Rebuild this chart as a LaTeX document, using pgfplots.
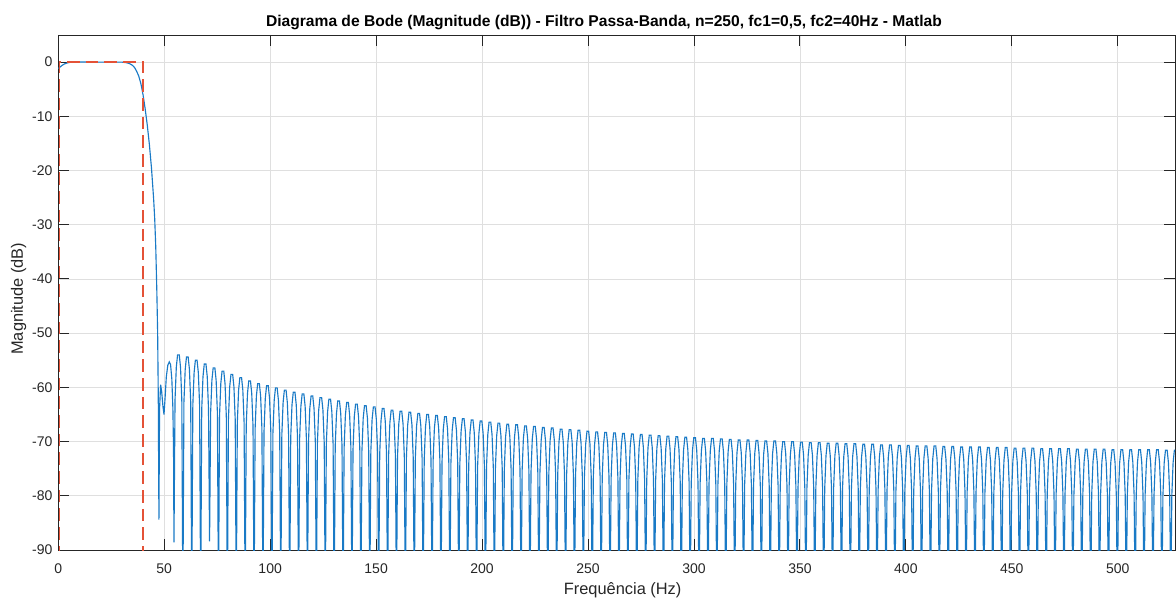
\documentclass[border=0pt]{standalone}
\usepackage{fontspec}
\setmainfont{Liberation Sans}
\usepackage{pgfplots}
\pgfplotsset{compat=1.18}
\definecolor{mblue}{RGB}{25,122,198}
\definecolor{mred}{RGB}{228,82,55}
\definecolor{mgrid}{RGB}{223,223,223}
\definecolor{maxis}{RGB}{38,38,38}
\begin{document}
\begin{tikzpicture}
\begin{axis}[name=ax, scale only axis, width=837.5pt, height=386.25pt,
 xmin=0, xmax=527, ymin=-90, ymax=5,
 xtick={0,50,...,500}, ytick={-90,-80,...,0},
 grid=major, major grid style={mgrid, line width=0.6pt},
 axis line style={maxis, line width=0.7pt},
 tick style={maxis, line width=0.7pt},
 major tick length=8.25pt, tick align=inside,
 ticklabel style={font=\fontsize{10.5}{12}\selectfont, text=maxis},
 /pgf/number format/assume math mode=true,
 xticklabel style={anchor=base, yshift=-17.5pt, inner sep=0pt},
 yticklabel style={anchor=east, xshift=-4.2pt, inner sep=0pt},
 xlabel={Frequência (Hz)}, ylabel={Magnitude (dB)},
 label style={font=\fontsize{12.3}{14}\selectfont, text=maxis, inner sep=0pt},
 xlabel style={at={(axis description cs:0.5,0)}, anchor=base, yshift=-33pt, xshift=4.5pt},
 ylabel style={at={(axis description cs:-0.0316,0.488)}, anchor=base},
 title={Diagrama de Bode (Magnitude (dB)) - Filtro Passa-Banda, n=250, fc1=0,5, fc2=40Hz - Matlab},
 title style={font=\bfseries\fontsize{11.7}{13}\selectfont, inner sep=0pt, at={(axis description cs:0.5,1)}, anchor=base, yshift=0pt, xshift=-9.5pt},
]
\addplot[mblue, line width=0.85pt] coordinates {
(0,-1.2)(1,-0.85)(2,-0.55)(3,-0.33)(4,-0.18)(5,-0.08)(6,-0.03)(7,0)(10,0.02)(15,0)(20,0)(25,0)(30,0)
(31,-0.05)(32,-0.1)(33,-0.2)(34,-0.35)(35,-0.6)(36,-1.0)(37,-1.7)(38,-2.6)(39,-4.0)(40,-6.0)
(41,-8.6)(42,-11.6)(43,-15.2)(44,-19.6)(45,-25.2)(45.5,-28.8)(46,-34)(46.5,-42)(46.9,-50)(47.2,-62)
(47.5,-84.4)(47.8,-64)(48.3,-59.5)(48.8,-60.8)(49.4,-63.5)(49.9,-65)(50.4,-62)(51.0,-58)(51.7,-55.9)
(52.4,-55.3)(53.0,-55.8)(53.6,-58.5)(54.1,-64)(54.4,-72)
(54.6,-88.6)(55.1,-62.3)(55.7,-56.3)(56.3,-54.0)(57.1,-54.0)(57.7,-56.3)(58.3,-62.3)
(58.8,-100)(59.3,-62.7)(59.9,-56.7)(60.5,-54.4)(61.3,-54.4)(61.9,-56.7)(62.5,-62.7)
(63.0,-100)(63.5,-63.3)(64.1,-57.3)(64.7,-55.0)(65.5,-55.0)(66.1,-57.3)(66.7,-63.3)
(67.2,-100)(67.7,-64.0)(68.3,-58.0)(68.9,-55.7)(69.7,-55.7)(70.3,-58.0)(70.9,-64.0)
(71.4,-88.4)(71.9,-64.7)(72.5,-58.7)(73.1,-56.4)(73.9,-56.4)(74.5,-58.7)(75.1,-64.7)
(75.6,-100)(76.1,-65.3)(76.7,-59.3)(77.3,-57.0)(78.1,-57.0)(78.7,-59.3)(79.3,-65.3)
(79.8,-100)(80.3,-65.9)(80.9,-59.9)(81.5,-57.6)(82.3,-57.6)(82.9,-59.9)(83.5,-65.9)
(84.0,-100)(84.5,-66.5)(85.1,-60.5)(85.7,-58.2)(86.5,-58.2)(87.1,-60.5)(87.7,-66.5)
(88.2,-100)(88.7,-67.1)(89.3,-61.1)(89.9,-58.8)(90.7,-58.8)(91.3,-61.1)(91.9,-67.1)
(92.4,-100)(92.9,-67.6)(93.5,-61.6)(94.1,-59.3)(94.9,-59.3)(95.5,-61.6)(96.1,-67.6)
(96.6,-100)(97.1,-68.0)(97.7,-62.0)(98.3,-59.7)(99.1,-59.7)(99.7,-62.0)(100.3,-68.0)
(100.8,-100)(101.3,-68.4)(101.9,-62.4)(102.5,-60.1)(103.3,-60.1)(103.9,-62.4)(104.5,-68.4)
(105.0,-100)(105.5,-68.8)(106.1,-62.8)(106.7,-60.5)(107.5,-60.5)(108.1,-62.8)(108.7,-68.8)
(109.2,-100)(109.7,-69.2)(110.3,-63.2)(110.9,-60.9)(111.7,-60.9)(112.3,-63.2)(112.9,-69.2)
(113.4,-100)(113.9,-69.5)(114.5,-63.5)(115.1,-61.2)(115.9,-61.2)(116.5,-63.5)(117.1,-69.5)
(117.6,-100)(118.1,-69.9)(118.7,-63.9)(119.3,-61.6)(120.1,-61.6)(120.7,-63.9)(121.3,-69.9)
(121.8,-100)(122.3,-70.2)(122.9,-64.2)(123.5,-61.9)(124.3,-61.9)(124.9,-64.2)(125.5,-70.2)
(126.0,-100)(126.5,-70.5)(127.1,-64.5)(127.7,-62.2)(128.5,-62.2)(129.1,-64.5)(129.7,-70.5)
(130.2,-100)(130.7,-70.8)(131.3,-64.8)(131.9,-62.5)(132.7,-62.5)(133.3,-64.8)(133.9,-70.8)
(134.4,-100)(134.9,-71.1)(135.5,-65.1)(136.1,-62.8)(136.9,-62.8)(137.5,-65.1)(138.1,-71.1)
(138.6,-100)(139.1,-71.4)(139.7,-65.4)(140.3,-63.1)(141.1,-63.1)(141.7,-65.4)(142.3,-71.4)
(142.8,-100)(143.3,-71.7)(143.9,-65.7)(144.5,-63.4)(145.3,-63.4)(145.9,-65.7)(146.5,-71.7)
(147.0,-100)(147.5,-71.9)(148.1,-65.9)(148.7,-63.6)(149.5,-63.6)(150.1,-65.9)(150.7,-71.9)
(151.2,-100)(151.7,-72.2)(152.3,-66.2)(152.9,-63.9)(153.7,-63.9)(154.3,-66.2)(154.9,-72.2)
(155.4,-100)(155.9,-72.5)(156.5,-66.5)(157.1,-64.2)(157.9,-64.2)(158.5,-66.5)(159.1,-72.5)
(159.6,-100)(160.1,-72.7)(160.7,-66.7)(161.3,-64.4)(162.1,-64.4)(162.7,-66.7)(163.3,-72.7)
(163.8,-100)(164.3,-72.9)(164.9,-66.9)(165.5,-64.6)(166.3,-64.6)(166.9,-66.9)(167.5,-72.9)
(168.0,-100)(168.5,-73.1)(169.1,-67.1)(169.7,-64.8)(170.5,-64.8)(171.1,-67.1)(171.7,-73.1)
(172.2,-100)(172.7,-73.3)(173.3,-67.3)(173.9,-65.0)(174.7,-65.0)(175.3,-67.3)(175.9,-73.3)
(176.4,-100)(176.9,-73.5)(177.5,-67.5)(178.1,-65.2)(178.9,-65.2)(179.5,-67.5)(180.1,-73.5)
(180.6,-100)(181.1,-73.7)(181.7,-67.7)(182.3,-65.4)(183.1,-65.4)(183.7,-67.7)(184.3,-73.7)
(184.8,-100)(185.3,-73.9)(185.9,-67.9)(186.5,-65.6)(187.3,-65.6)(187.9,-67.9)(188.5,-73.9)
(189.0,-100)(189.5,-74.1)(190.1,-68.1)(190.7,-65.8)(191.5,-65.8)(192.1,-68.1)(192.7,-74.1)
(193.2,-100)(193.7,-74.3)(194.3,-68.3)(194.9,-66.0)(195.7,-66.0)(196.3,-68.3)(196.9,-74.3)
(197.4,-100)(197.9,-74.5)(198.5,-68.5)(199.1,-66.2)(199.9,-66.2)(200.5,-68.5)(201.1,-74.5)
(201.6,-100)(202.1,-74.7)(202.7,-68.7)(203.3,-66.4)(204.1,-66.4)(204.7,-68.7)(205.3,-74.7)
(205.8,-100)(206.3,-74.9)(206.9,-68.9)(207.5,-66.6)(208.3,-66.6)(208.9,-68.9)(209.5,-74.9)
(210.0,-100)(210.5,-75.1)(211.1,-69.1)(211.7,-66.8)(212.5,-66.8)(213.1,-69.1)(213.7,-75.1)
(214.2,-100)(214.7,-75.2)(215.3,-69.2)(215.9,-66.9)(216.7,-66.9)(217.3,-69.2)(217.9,-75.2)
(218.4,-100)(218.9,-75.4)(219.5,-69.4)(220.1,-67.1)(220.9,-67.1)(221.5,-69.4)(222.1,-75.4)
(222.6,-100)(223.1,-75.5)(223.7,-69.5)(224.3,-67.2)(225.1,-67.2)(225.7,-69.5)(226.3,-75.5)
(226.8,-100)(227.3,-75.7)(227.9,-69.7)(228.5,-67.4)(229.3,-67.4)(229.9,-69.7)(230.5,-75.7)
(231.0,-100)(231.5,-75.8)(232.1,-69.8)(232.7,-67.5)(233.5,-67.5)(234.1,-69.8)(234.7,-75.8)
(235.2,-100)(235.7,-76.0)(236.3,-70.0)(236.9,-67.7)(237.7,-67.7)(238.3,-70.0)(238.9,-76.0)
(239.4,-100)(239.9,-76.1)(240.5,-70.1)(241.1,-67.8)(241.9,-67.8)(242.5,-70.1)(243.1,-76.1)
(243.6,-100)(244.1,-76.2)(244.7,-70.2)(245.3,-67.9)(246.1,-67.9)(246.7,-70.2)(247.3,-76.2)
(247.8,-100)(248.3,-76.4)(248.9,-70.4)(249.5,-68.1)(250.3,-68.1)(250.9,-70.4)(251.5,-76.4)
(252.0,-100)(252.5,-76.5)(253.1,-70.5)(253.7,-68.2)(254.5,-68.2)(255.1,-70.5)(255.7,-76.5)
(256.2,-100)(256.7,-76.6)(257.3,-70.6)(257.9,-68.3)(258.7,-68.3)(259.3,-70.6)(259.9,-76.6)
(260.4,-100)(260.9,-76.7)(261.5,-70.7)(262.1,-68.4)(262.9,-68.4)(263.5,-70.7)(264.1,-76.7)
(264.6,-100)(265.1,-76.8)(265.7,-70.8)(266.3,-68.5)(267.1,-68.5)(267.7,-70.8)(268.3,-76.8)
(268.8,-100)(269.3,-76.9)(269.9,-70.9)(270.5,-68.6)(271.3,-68.6)(271.9,-70.9)(272.5,-76.9)
(273.0,-100)(273.5,-77.0)(274.1,-71.0)(274.7,-68.7)(275.5,-68.7)(276.1,-71.0)(276.7,-77.0)
(277.2,-100)(277.7,-77.1)(278.3,-71.1)(278.9,-68.8)(279.7,-68.8)(280.3,-71.1)(280.9,-77.1)
(281.4,-100)(281.9,-77.2)(282.5,-71.2)(283.1,-68.9)(283.9,-68.9)(284.5,-71.2)(285.1,-77.2)
(285.6,-100)(286.1,-77.3)(286.7,-71.3)(287.3,-69.0)(288.1,-69.0)(288.7,-71.3)(289.3,-77.3)
(289.8,-100)(290.3,-77.4)(290.9,-71.4)(291.5,-69.1)(292.3,-69.1)(292.9,-71.4)(293.5,-77.4)
(294.0,-100)(294.5,-77.5)(295.1,-71.5)(295.7,-69.2)(296.5,-69.2)(297.1,-71.5)(297.7,-77.5)
(298.2,-100)(298.7,-77.6)(299.3,-71.6)(299.9,-69.3)(300.7,-69.3)(301.3,-71.6)(301.9,-77.6)
(302.4,-100)(302.9,-77.7)(303.5,-71.7)(304.1,-69.4)(304.9,-69.4)(305.5,-71.7)(306.1,-77.7)
(306.6,-100)(307.1,-77.7)(307.7,-71.7)(308.3,-69.4)(309.1,-69.4)(309.7,-71.7)(310.3,-77.7)
(310.8,-100)(311.3,-77.8)(311.9,-71.8)(312.5,-69.5)(313.3,-69.5)(313.9,-71.8)(314.5,-77.8)
(315.0,-100)(315.5,-77.9)(316.1,-71.9)(316.7,-69.6)(317.5,-69.6)(318.1,-71.9)(318.7,-77.9)
(319.2,-100)(319.7,-78.0)(320.3,-72.0)(320.9,-69.7)(321.7,-69.7)(322.3,-72.0)(322.9,-78.0)
(323.4,-100)(323.9,-78.0)(324.5,-72.0)(325.1,-69.7)(325.9,-69.7)(326.5,-72.0)(327.1,-78.0)
(327.6,-100)(328.1,-78.1)(328.7,-72.1)(329.3,-69.8)(330.1,-69.8)(330.7,-72.1)(331.3,-78.1)
(331.8,-100)(332.3,-78.2)(332.9,-72.2)(333.5,-69.9)(334.3,-69.9)(334.9,-72.2)(335.5,-78.2)
(336.0,-100)(336.5,-78.2)(337.1,-72.2)(337.7,-69.9)(338.5,-69.9)(339.1,-72.2)(339.7,-78.2)
(340.2,-100)(340.7,-78.3)(341.3,-72.3)(341.9,-70.0)(342.7,-70.0)(343.3,-72.3)(343.9,-78.3)
(344.4,-100)(344.9,-78.3)(345.5,-72.3)(346.1,-70.0)(346.9,-70.0)(347.5,-72.3)(348.1,-78.3)
(348.6,-100)(349.1,-78.4)(349.7,-72.4)(350.3,-70.1)(351.1,-70.1)(351.7,-72.4)(352.3,-78.4)
(352.8,-100)(353.3,-78.5)(353.9,-72.5)(354.5,-70.2)(355.3,-70.2)(355.9,-72.5)(356.5,-78.5)
(357.0,-100)(357.5,-78.5)(358.1,-72.5)(358.7,-70.2)(359.5,-70.2)(360.1,-72.5)(360.7,-78.5)
(361.2,-100)(361.7,-78.6)(362.3,-72.6)(362.9,-70.3)(363.7,-70.3)(364.3,-72.6)(364.9,-78.6)
(365.4,-100)(365.9,-78.6)(366.5,-72.6)(367.1,-70.3)(367.9,-70.3)(368.5,-72.6)(369.1,-78.6)
(369.6,-100)(370.1,-78.7)(370.7,-72.7)(371.3,-70.4)(372.1,-70.4)(372.7,-72.7)(373.3,-78.7)
(373.8,-100)(374.3,-78.7)(374.9,-72.7)(375.5,-70.4)(376.3,-70.4)(376.9,-72.7)(377.5,-78.7)
(378.0,-100)(378.5,-78.8)(379.1,-72.8)(379.7,-70.5)(380.5,-70.5)(381.1,-72.8)(381.7,-78.8)
(382.2,-100)(382.7,-78.8)(383.3,-72.8)(383.9,-70.5)(384.7,-70.5)(385.3,-72.8)(385.9,-78.8)
(386.4,-100)(386.9,-78.9)(387.5,-72.9)(388.1,-70.6)(388.9,-70.6)(389.5,-72.9)(390.1,-78.9)
(390.6,-100)(391.1,-78.9)(391.7,-72.9)(392.3,-70.6)(393.1,-70.6)(393.7,-72.9)(394.3,-78.9)
(394.8,-100)(395.3,-79.0)(395.9,-73.0)(396.5,-70.7)(397.3,-70.7)(397.9,-73.0)(398.5,-79.0)
(399.0,-100)(399.5,-79.0)(400.1,-73.0)(400.7,-70.7)(401.5,-70.7)(402.1,-73.0)(402.7,-79.0)
(403.2,-100)(403.7,-79.1)(404.3,-73.1)(404.9,-70.8)(405.7,-70.8)(406.3,-73.1)(406.9,-79.1)
(407.4,-100)(407.9,-79.1)(408.5,-73.1)(409.1,-70.8)(409.9,-70.8)(410.5,-73.1)(411.1,-79.1)
(411.6,-100)(412.1,-79.1)(412.7,-73.1)(413.3,-70.8)(414.1,-70.8)(414.7,-73.1)(415.3,-79.1)
(415.8,-100)(416.3,-79.2)(416.9,-73.2)(417.5,-70.9)(418.3,-70.9)(418.9,-73.2)(419.5,-79.2)
(420.0,-100)(420.5,-79.2)(421.1,-73.2)(421.7,-70.9)(422.5,-70.9)(423.1,-73.2)(423.7,-79.2)
(424.2,-100)(424.7,-79.3)(425.3,-73.3)(425.9,-71.0)(426.7,-71.0)(427.3,-73.3)(427.9,-79.3)
(428.4,-100)(428.9,-79.3)(429.5,-73.3)(430.1,-71.0)(430.9,-71.0)(431.5,-73.3)(432.1,-79.3)
(432.6,-100)(433.1,-79.3)(433.7,-73.3)(434.3,-71.0)(435.1,-71.0)(435.7,-73.3)(436.3,-79.3)
(436.8,-100)(437.3,-79.4)(437.9,-73.4)(438.5,-71.1)(439.3,-71.1)(439.9,-73.4)(440.5,-79.4)
(441.0,-100)(441.5,-79.4)(442.1,-73.4)(442.7,-71.1)(443.5,-71.1)(444.1,-73.4)(444.7,-79.4)
(445.2,-100)(445.7,-79.4)(446.3,-73.4)(446.9,-71.1)(447.7,-71.1)(448.3,-73.4)(448.9,-79.4)
(449.4,-100)(449.9,-79.5)(450.5,-73.5)(451.1,-71.2)(451.9,-71.2)(452.5,-73.5)(453.1,-79.5)
(453.6,-100)(454.1,-79.5)(454.7,-73.5)(455.3,-71.2)(456.1,-71.2)(456.7,-73.5)(457.3,-79.5)
(457.8,-100)(458.3,-79.5)(458.9,-73.5)(459.5,-71.2)(460.3,-71.2)(460.9,-73.5)(461.5,-79.5)
(462.0,-100)(462.5,-79.6)(463.1,-73.6)(463.7,-71.3)(464.5,-71.3)(465.1,-73.6)(465.7,-79.6)
(466.2,-100)(466.7,-79.6)(467.3,-73.6)(467.9,-71.3)(468.7,-71.3)(469.3,-73.6)(469.9,-79.6)
(470.4,-100)(470.9,-79.6)(471.5,-73.6)(472.1,-71.3)(472.9,-71.3)(473.5,-73.6)(474.1,-79.6)
(474.6,-100)(475.1,-79.6)(475.7,-73.6)(476.3,-71.3)(477.1,-71.3)(477.7,-73.6)(478.3,-79.6)
(478.8,-100)(479.3,-79.7)(479.9,-73.7)(480.5,-71.4)(481.3,-71.4)(481.9,-73.7)(482.5,-79.7)
(483.0,-100)(483.5,-79.7)(484.1,-73.7)(484.7,-71.4)(485.5,-71.4)(486.1,-73.7)(486.7,-79.7)
(487.2,-100)(487.7,-79.7)(488.3,-73.7)(488.9,-71.4)(489.7,-71.4)(490.3,-73.7)(490.9,-79.7)
(491.4,-100)(491.9,-79.7)(492.5,-73.7)(493.1,-71.4)(493.9,-71.4)(494.5,-73.7)(495.1,-79.7)
(495.6,-100)(496.1,-79.8)(496.7,-73.8)(497.3,-71.5)(498.1,-71.5)(498.7,-73.8)(499.3,-79.8)
(499.8,-100)(500.3,-79.8)(500.9,-73.8)(501.5,-71.5)(502.3,-71.5)(502.9,-73.8)(503.5,-79.8)
(504.0,-100)(504.5,-79.8)(505.1,-73.8)(505.7,-71.5)(506.5,-71.5)(507.1,-73.8)(507.7,-79.8)
(508.2,-100)(508.7,-79.8)(509.3,-73.8)(509.9,-71.5)(510.7,-71.5)(511.3,-73.8)(511.9,-79.8)
(512.4,-100)(512.9,-79.8)(513.5,-73.8)(514.1,-71.5)(514.9,-71.5)(515.5,-73.8)(516.1,-79.8)
(516.6,-100)(517.1,-79.8)(517.7,-73.8)(518.3,-71.5)(519.1,-71.5)(519.7,-73.8)(520.3,-79.8)
(520.8,-100)(521.3,-79.9)(521.9,-73.9)(522.5,-71.6)(523.3,-71.6)(523.9,-73.9)(524.5,-79.9)
(525.0,-100)(525.5,-79.9)(526.1,-73.9)(526.7,-71.6)(527.5,-71.6)
};
\addplot[mred, line width=1.1pt, dash pattern=on 9.5pt off 4.5pt] coordinates {(0.5,-95)(0.5,0)(40,0)(40,-95)};
\end{axis}
\pgfresetboundingbox
\path ([xshift=-43.7pt,yshift=-36.75pt]ax.south west) rectangle ([xshift=0.75pt,yshift=26.25pt]ax.north east);
\end{tikzpicture}
\end{document}
